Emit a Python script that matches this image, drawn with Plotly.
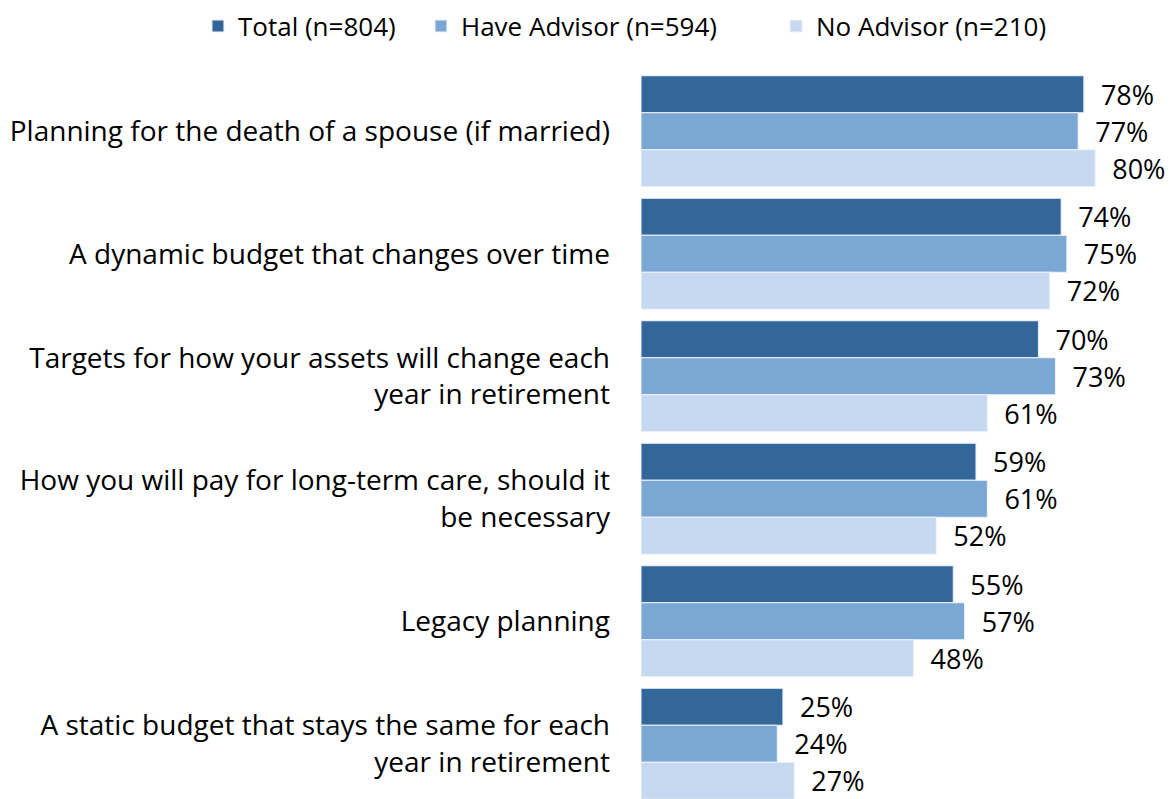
import plotly.graph_objects as go

categories = [
    "Planning for the death of a spouse (if married)",
    "A dynamic budget that changes over time",
    "Targets for how your assets will change each<br>year in retirement",
    "How you will pay for long-term care, should it<br>be necessary",
    "Legacy planning",
    "A static budget that stays the same for each<br>year in retirement",
]
series_names = ["Total (n=804)", "Have Advisor (n=594)", "No Advisor (n=210)"]
total = [78, 74, 70, 59, 55, 25]
have_advisor = [77, 75, 73, 61, 57, 24]
no_advisor = [80, 72, 61, 52, 48, 27]
colors = ["#336699", "#7BA7D4", "#C6D9F0"]
legend_pad = [3, 8, 0]  # trailing spacing after legend entries

FONT = "Open Sans"
fig = go.Figure()
for name, vals, col, pad in zip(series_names, [total, have_advisor, no_advisor], colors, legend_pad):
    fig.add_trace(go.Bar(
        y=categories, x=vals, name=name + "\u00a0" * pad, orientation="h",
        marker=dict(color=col, line=dict(color="#EEF3FA", width=1)),
        text=[f"{v}%" for v in vals], textposition="outside",
        texttemplate="  %{text}",
        textfont=dict(size=27, color="black", family=FONT),
        cliponaxis=False,
    ))

fig.update_layout(
    width=1165, height=791,
    barmode="group", bargap=0.094, bargroupgap=0,
    plot_bgcolor="white", paper_bgcolor="white",
    margin=dict(l=633, r=21, t=62, b=0, autoexpand=False),
    font=dict(family=FONT, size=28, color="black"),
    legend=dict(orientation="h", x=-0.867, xanchor="left", xref="paper",
                y=1.028, yanchor="bottom", yref="paper",
                font=dict(size=26, family=FONT), traceorder="normal"),
    xaxis=dict(range=[0, 90], visible=False, showgrid=False, automargin=False),
    yaxis=dict(categoryorder="array", categoryarray=categories, automargin=False,
               range=[5.451, -0.5], showgrid=False, showline=False, ticks="",
               ticklabelstandoff=30, tickfont=dict(size=28, family=FONT)),
)
fig.write_html("out.html")
